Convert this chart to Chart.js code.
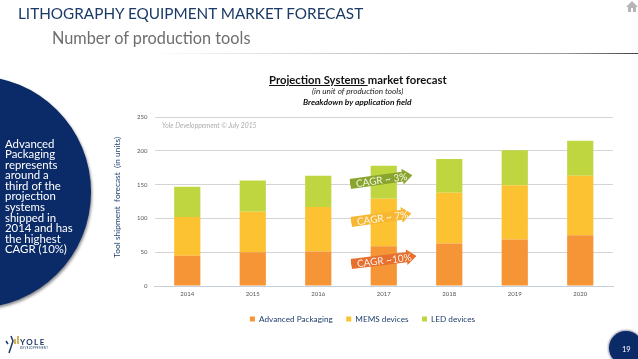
<!DOCTYPE html>
<html>
<head>
<meta charset="utf-8">
<script src="https://cdn.jsdelivr.net/npm/chart.js@4"></script>
<style>
html, body { margin:0; padding:0; background:#fff; overflow:hidden; }
body { width:638px; height:359px; position:relative; font-family:Lato, sans-serif; }
canvas { position:absolute; left:0; top:0; }
.t { position:absolute; white-space:nowrap; }
/* left blue circle */
#circle { position:absolute; left:-141px; top:76px; width:232px; height:232px; border-radius:50%;
  background:#0a2b68; box-shadow:1px 2px 3px #8a8a8a; }
#side { position:absolute; left:5px; top:138.5px; color:#fff; font-size:11.4px; line-height:10.6px; }
#rule { position:absolute; left:150px; top:53px; width:488px; height:1px;
  background:linear-gradient(to right, #fff, #ccc 40%, #999 85%, #444); }
.arrow { position:absolute; height:16px; transform-origin:left center; }
.arrow div { position:absolute; inset:0; }
.arrow span { position:absolute; left:6px; top:1.5px; color:#fff; font-size:10px; line-height:13px; opacity:.9; }
#pg { position:absolute; left:609px; top:331px; width:34px; height:34px; border-radius:50%;
  background:#0a2b68; box-shadow:0 0 2px 1px #99a; }
</style>
</head>
<body>
<canvas id="myChart" width="638" height="359"></canvas>

<div class="t" style="left:18px;top:4px;font-size:15.3px;color:#1b3a66">LITHOGRAPHY EQUIPMENT MARKET FORECAST</div>
<div class="t" style="left:52px;top:28px;font-size:16.3px;color:#6e6e6e">Number of production tools</div>
<div id="rule"></div>
<svg style="position:absolute;left:626px;top:1px" width="12" height="11" viewBox="0 0 12 11">
  <path d="M6 0 L12 6 L10 6 L10 11 L7 11 L7 7 L5 7 L5 11 L2 11 L2 6 L0 6 Z" fill="#b5b5b5"/>
</svg>

<div id="circle"></div>
<div id="side" class="t">Advanced<br>Packaging<br>represents<br>around a<br>third of the<br>projection<br>systems<br>shipped in<br>2014 and has<br>the highest<br>CAGR (10%)</div>

<div class="t" style="left:269px;top:73px;font-size:11.3px;font-weight:700;color:#111"><u>Projection Systems </u>market forecast</div>
<div class="t" style="left:312px;top:86px;font-size:8.2px;font-style:italic;color:#222">(in unit of production tools)</div>
<div class="t" style="left:303px;top:97px;font-size:8.4px;font-style:italic;font-weight:700;color:#111">Breakdown by application field</div>
<div class="t" style="left:162px;top:121px;font-size:6.8px;font-style:italic;color:#aeaeae">Yole Developpement © July 2015</div>

<div class="arrow" style="left:350px;top:176px;width:63px;transform:rotate(-8deg)">
  <div style="background:#8aa52e;clip-path:polygon(0 3px,53px 3px,53px 0,63px 8px,53px 16px,53px 13px,0 13px)"></div>
  <span>CAGR ~ 3%</span>
</div>
<div class="arrow" style="left:351px;top:214px;width:61px;transform:rotate(-8deg)">
  <div style="background:#f7b733;clip-path:polygon(0 3px,51px 3px,51px 0,61px 8px,51px 16px,51px 13px,0 13px)"></div>
  <span>CAGR ~ 7%</span>
</div>
<div class="arrow" style="left:351px;top:256px;width:66px;transform:rotate(-7deg)">
  <div style="background:#e8702f;clip-path:polygon(0 3px,56px 3px,56px 0,66px 8px,56px 16px,56px 13px,0 13px)"></div>
  <span>CAGR ~10%</span>
</div>

<div id="pg"></div>
<div class="t" style="left:622px;top:345px;font-size:7.5px;color:#fff">19</div>

<svg style="position:absolute;left:5px;top:333px" width="14" height="24" viewBox="0 0 14 24">
  <path d="M1 8 L3 11 M6 3 L8 8 L4 20" stroke="#1b3a66" stroke-width="1.5" fill="none"/>
  <path d="M10 6 L10 11 M13 3 L13 11" stroke="#c39a2a" stroke-width="1.5"/>
</svg>
<div class="t" style="left:20px;top:337px;font-size:8px;font-weight:700;letter-spacing:1.4px;color:#1b3a66">YOLE</div>
<div class="t" style="left:20px;top:346px;font-size:2.8px;letter-spacing:.35px;color:#1b3a66">DEVELOPPEMENT</div>

<script>
// chart data
const years = ["2014", "2015", "2016", "2017", "2018", "2019", "2020"];
const advancedPackaging = [45, 50, 51, 59, 63, 69, 75];
const memsDevices = [57, 60, 66, 70, 75, 80, 88];
const ledDevices = [45, 46, 46, 49, 50, 52, 52];
const yTicks = [0, 50, 100, 150, 200, 250];

const myChart = document.getElementById("myChart");

let barChart = new Chart(myChart, {
	type: 'bar',
	data: {
		labels: years,
		datasets: [
			{ label: 'Advanced Packaging', data: advancedPackaging, backgroundColor: '#f59536' },
			{ label: 'MEMS devices', data: memsDevices, backgroundColor: '#fcc232' },
			{ label: 'LED devices', data: ledDevices, backgroundColor: '#bfd640' }
		]
	},
	options: {
		responsive: false,
		animation: false,
		devicePixelRatio: 1,
		barPercentage: 0.4,
		categoryPercentage: 1,
		layout: { padding: { left: 112, right: 25, top: 117, bottom: 26 } },
		plugins: {
			title: { display: false },
			tooltip: { enabled: false },
			legend: {
				position: 'bottom',
				labels: {
					boxWidth: 5,
					boxHeight: 5,
					padding: 13.5,
					color: '#1f3f6e',
					font: { family: 'Lato', size: 8.2 }
				}
			}
		},
		scales: {
			x: {
				stacked: true,
				grid: { display: false, drawTicks: false },
				border: { color: '#c3d0dc' },
				ticks: { color: '#555', padding: 4, font: { family: 'Lato', size: 6 } }
			},
			y: {
				stacked: true,
				min: 0,
				max: 250,
				afterBuildTicks: function (axis) {
					axis.ticks = yTicks.map(v => ({ value: v }));
				},
				grid: { color: '#d4d4d4', drawTicks: false },
				border: { display: false },
				title: {
					display: true,
					text: '    Tool shipment  forecast  (in units)',
					color: '#1f3f6e',
					padding: { top: 0, bottom: 8 },
					font: { family: 'Lato', size: 8.4 }
				},
				ticks: { color: '#555', padding: 7, font: { family: 'Lato', size: 6 } }
			}
		}
	}
});
</script>
</body>
</html>
